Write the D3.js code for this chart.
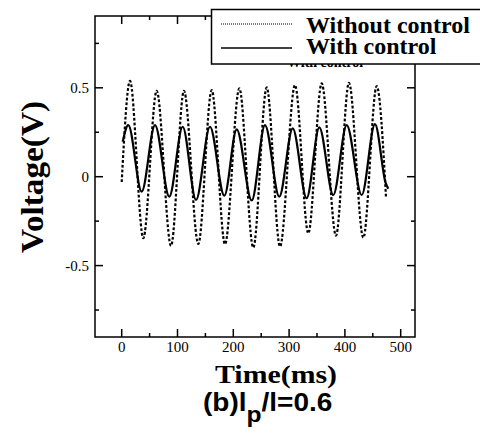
<!DOCTYPE html>
<html>
<head>
<meta charset="utf-8">
<script src="https://cdn.jsdelivr.net/npm/d3@7"></script>
<style>
  html, body { margin: 0; padding: 0; background: #fff; }
  svg { display: block; }
</style>
</head>
<body>
<svg id="chart" width="480" height="439"></svg>
<script>
// Time (ms) and voltage (V) samples: turning points of each trace
const withoutControlTime = [0, 14.9, 38.7, 62.7, 88.4, 111.6, 137.3, 161.3, 185.1, 210.8, 235.8,
  259.9, 283.7, 310.6, 334.4, 358.4, 384, 407.3, 433, 457, 473.7];
const withoutControlVolt = [-0.03, 0.539, -0.346, 0.483, -0.389, 0.483, -0.378, 0.487, -0.380, 0.497, -0.399,
  0.502, -0.393, 0.515, -0.318, 0.525, -0.331, 0.528, -0.343, 0.510, -0.118];

const withControlTime = [1.8, 11.8, 35.8, 59.7, 85.3, 109.3, 133.2, 158.2, 183.9, 206.1, 233,
  256.8, 282.4, 306.5, 331.5, 354.1, 379.2, 403.2, 430.1, 453.9, 473, 477.8];
const withControlVolt = [0.197, 0.290, -0.084, 0.290, -0.112, 0.281, -0.131, 0.281, -0.107, 0.266, -0.134,
  0.290, -0.112, 0.272, -0.121, 0.278, -0.103, 0.290, -0.103, 0.296, -0.035, -0.068];

const xMajorTicks = [0, 100, 200, 300, 400, 500];
const xMinorTicks = [50, 150, 250, 350, 450];
const yMajorTicks = [-0.5, 0, 0.5];
const yMinorTicks = [-0.75, -0.25, 0.25, 0.75];
const yTickLabels = ["-0.5", "0", "0.5"];

const seriesNames = ["Without control", "With control"];

const svg = d3.select("#chart");
const frame = { left: 95, right: 415, top: 16, bottom: 337 };

const x = d3.scaleLinear().domain([0, 500]).range([121.7, 400.7]);
const y = d3.scaleLinear().domain([-0.9, 0.9]).range([336.7, 16.7]);

const serif = "'Liberation Serif', 'Times New Roman', serif";
const sans = "'Liberation Sans', Arial, sans-serif";

// Traces
const line = d3.line().x(d => x(d[0])).y(d => y(d[1])).curve(d3.curveMonotoneX);
const without = withoutControlTime.map((t, i) => [t, withoutControlVolt[i]]);
const withC = withControlTime.map((t, i) => [t, withControlVolt[i]]);

svg.append("path").datum(without).attr("d", line)
  .attr("fill", "none").attr("stroke", "#000").attr("stroke-width", 2.2)
  .attr("stroke-dasharray", "2.8,2");
svg.append("path").datum(withC).attr("d", line)
  .attr("fill", "none").attr("stroke", "#000").attr("stroke-width", 2.2)
  .attr("stroke-linejoin", "round");

// Frame
svg.append("rect")
  .attr("x", frame.left).attr("y", frame.top)
  .attr("width", frame.right - frame.left).attr("height", frame.bottom - frame.top)
  .attr("fill", "none").attr("stroke", "#000").attr("stroke-width", 1.5);

// Inward ticks on all four sides
const tickG = svg.append("g").attr("stroke", "#000").attr("stroke-width", 1.5);
function xTicks(vals, len) {
  vals.forEach(v => {
    tickG.append("line").attr("x1", x(v)).attr("x2", x(v)).attr("y1", frame.bottom).attr("y2", frame.bottom - len);
    tickG.append("line").attr("x1", x(v)).attr("x2", x(v)).attr("y1", frame.top).attr("y2", frame.top + len);
  });
}
function yTicks(vals, len) {
  vals.forEach(v => {
    tickG.append("line").attr("y1", y(v)).attr("y2", y(v)).attr("x1", frame.left).attr("x2", frame.left + len);
    tickG.append("line").attr("y1", y(v)).attr("y2", y(v)).attr("x1", frame.right).attr("x2", frame.right - len);
  });
}
xTicks(xMajorTicks, 8); xTicks(xMinorTicks, 4);
yTicks(yMajorTicks, 8); yTicks(yMinorTicks, 4);

// Tick labels
svg.append("g").selectAll("text").data(xMajorTicks).join("text")
  .attr("x", d => x(d)).attr("y", 352)
  .attr("text-anchor", "middle")
  .attr("font-family", serif).attr("font-size", 15)
  .text(d => d);
svg.append("g").selectAll("text").data(yMajorTicks).join("text")
  .attr("x", 89).attr("y", d => y(d) + 5)
  .attr("text-anchor", "end")
  .attr("font-family", serif).attr("font-size", 15)
  .text((d, i) => yTickLabels[i]);

// Axis titles
svg.append("text")
  .attr("x", 215).attr("y", 383)
  .attr("font-family", serif).attr("font-weight", "bold").attr("font-size", 26)
  .attr("textLength", 122).attr("lengthAdjust", "spacingAndGlyphs")
  .text("Time(ms)");
svg.append("text")
  .attr("transform", "translate(43,253) rotate(-90)")
  .attr("font-family", serif).attr("font-weight", "bold").attr("font-size", 32)
  .attr("textLength", 152).attr("lengthAdjust", "spacingAndGlyphs")
  .text("Voltage(V)");

// Panel caption
const cap = svg.append("text")
  .attr("transform", "translate(203,411) scale(1.12,1)")
  .attr("font-family", sans).attr("font-weight", "bold").attr("font-size", 25);
cap.append("tspan").text("(b)l");
cap.append("tspan").attr("dy", 11).attr("font-size", 22).text("p");
cap.append("tspan").attr("dy", -11).text("/l=0.6");

// Stray series label partly hidden under the legend
svg.append("text")
  .attr("x", 287).attr("y", 67)
  .attr("font-family", serif).attr("font-weight", "bold").attr("font-size", 14)
  .text(seriesNames[1]);

// Legend
const lg = svg.append("g");
lg.append("rect").attr("x", 211.5).attr("y", 9.5).attr("width", 280).attr("height", 54.5)
  .attr("fill", "#fff").attr("stroke", "#000").attr("stroke-width", 1.5);
lg.append("line").attr("x1", 221).attr("x2", 292).attr("y1", 24).attr("y2", 24)
  .attr("stroke", "#000").attr("stroke-width", 1).attr("stroke-dasharray", "1,1");
lg.append("line").attr("x1", 221).attr("x2", 292).attr("y1", 48).attr("y2", 48)
  .attr("stroke", "#000").attr("stroke-width", 1.5);
lg.selectAll("text.lab").data(seriesNames).join("text").attr("class", "lab")
  .attr("x", 306).attr("y", (d, i) => 33 + i * 21)
  .attr("font-family", serif).attr("font-weight", "bold").attr("font-size", 24)
  .text(d => d);
</script>
</body>
</html>
